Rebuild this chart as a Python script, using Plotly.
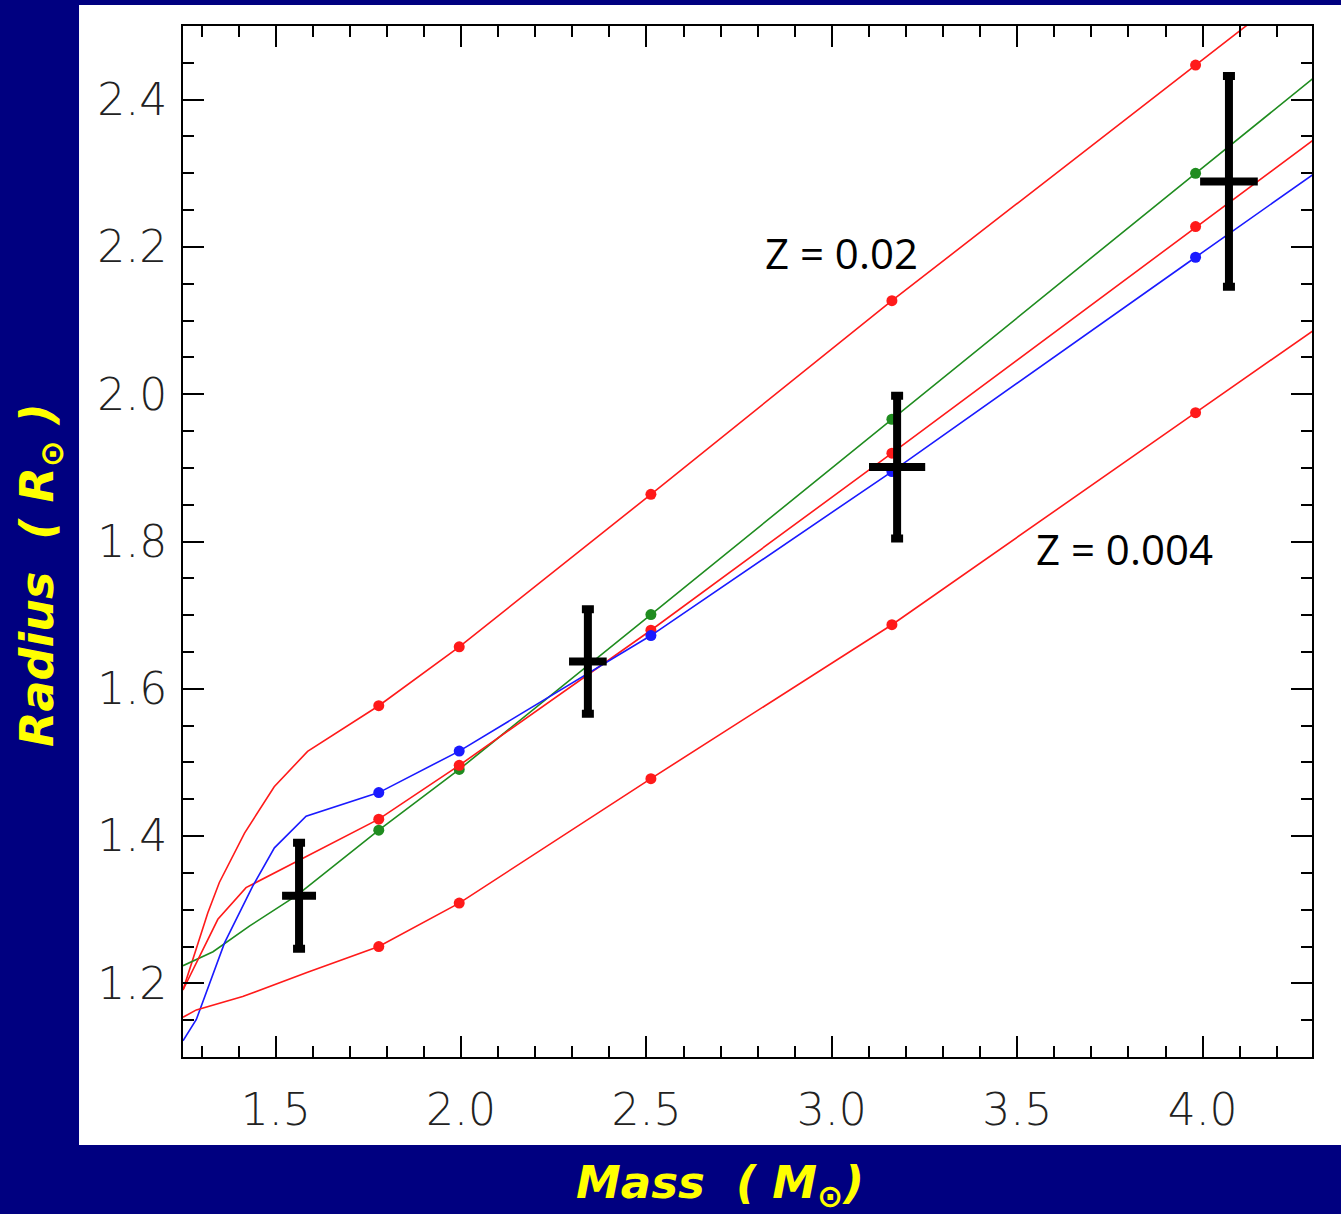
import plotly.graph_objects as go

# ---------------- data ----------------
MARKED_MASSES = [1.778, 1.995, 2.512, 3.162, 3.981]

# Upper red track (Z = 0.02)
mass_red_top = [1.25, 1.317, 1.348, 1.416, 1.496, 1.586, 1.778, 1.995, 2.512, 3.162, 3.981, 5.012]
radius_red_top = [1.191, 1.296, 1.337, 1.404, 1.467, 1.515, 1.577, 1.657, 1.864, 2.127, 2.447, 2.849]

# Middle red track
mass_red_mid = [1.25, 1.344, 1.420, 1.778, 1.995, 2.512, 3.162, 3.981, 5.012]
radius_red_mid = [1.191, 1.287, 1.330, 1.423, 1.496, 1.6795, 1.920, 2.2277, 2.612]

# Lower red track (Z = 0.004)
mass_red_low = [1.25, 1.286, 1.411, 1.586, 1.778, 1.995, 2.512, 3.162, 3.981, 5.012]
radius_red_low = [1.154, 1.164, 1.182, 1.215, 1.250, 1.309, 1.478, 1.687, 1.975, 2.337]

# Green track
mass_green = [1.25, 1.331, 1.430, 1.556, 1.778, 1.995, 2.512, 3.162, 3.981, 5.012]
radius_green = [1.224, 1.243, 1.278, 1.319, 1.408, 1.4905, 1.7008, 1.966, 2.300, 2.719]

# Blue track
mass_blue = [1.25, 1.286, 1.362, 1.438, 1.4965, 1.582, 1.778, 1.995, 2.512, 3.162, 3.981, 5.012]
radius_blue = [1.122, 1.151, 1.255, 1.332, 1.384, 1.427, 1.459, 1.5154, 1.6723, 1.895, 2.186, 2.552]

# Observed stars with error bars
obs_mass = [1.563, 2.342, 3.176, 4.071]
obs_mass_err = [0.035, 0.040, 0.065, 0.067]
obs_radius = [1.319, 1.637, 1.901, 2.289]
obs_radius_err = [0.072, 0.071, 0.097, 0.143]

x_ticks = [1.5, 2.0, 2.5, 3.0, 3.5, 4.0]
y_ticks = [1.2, 1.4, 1.6, 1.8, 2.0, 2.2, 2.4]

labels = [("Z = 0.02", 3.025, 2.192), ("Z = 0.004", 3.790, 1.790)]

RED = "#ff1a1a"
GREEN = "#1f8c1f"
BLUE = "#1a1aff"

series = [
    (mass_red_top, radius_red_top, RED),
    (mass_green, radius_green, GREEN),
    (mass_red_mid, radius_red_mid, RED),
    (mass_blue, radius_blue, BLUE),
    (mass_red_low, radius_red_low, RED),
]

fig = go.Figure()
for m, r, c in series:
    fig.add_trace(go.Scatter(x=m, y=r, mode="lines",
                             line=dict(color=c, width=1.6),
                             showlegend=False, hoverinfo="skip"))
    mx = [a for a in m if any(abs(a - k) < 1e-3 for k in MARKED_MASSES)]
    my = [b for a, b in zip(m, r) if any(abs(a - k) < 1e-3 for k in MARKED_MASSES)]
    fig.add_trace(go.Scatter(x=mx, y=my, mode="markers",
                             marker=dict(color=c, size=11, symbol="circle"),
                             showlegend=False))

fig.add_trace(go.Scatter(
    x=obs_mass, y=obs_radius, mode="markers",
    marker=dict(size=1, color="black", opacity=0),
    error_y=dict(type="data", array=obs_radius_err, color="black", thickness=8, width=6),
    error_x=dict(type="data", array=obs_mass_err, color="black", thickness=8, width=4),
    showlegend=False))

annotations = []
for txt, xx, yy in labels:
    annotations.append(dict(x=xx, y=yy, xref="x", yref="y", text=txt, showarrow=False,
                            font=dict(family="Open Sans", size=42, color="black"),
                            xanchor="center", yanchor="middle"))

annotations.append(dict(x=0.4757, y=-0.124, xref="paper", yref="paper",
                        text="Mass  ( M<sub>⊙</sub>)", showarrow=False,
                        font=dict(family="DejaVu Sans", size=45, color="#ffff00",
                                  weight="bold", style="italic"),
                        xanchor="center", yanchor="middle"))
annotations.append(dict(x=-0.1267, y=0.4675, xref="paper", yref="paper",
                        text="Radius  ( R<sub>⊙</sub> )", showarrow=False, textangle=-90,
                        font=dict(family="DejaVu Sans", size=46, color="#ffff00",
                                  weight="bold", style="italic"),
                        xanchor="center", yanchor="middle"))

tick_font = dict(family="DejaVu Sans", size=44, color="#222222", weight=200)

fig.update_layout(
    width=1341, height=1214,
    margin=dict(l=183, r=29, t=26, b=157),
    paper_bgcolor="#000080",
    plot_bgcolor="white",
    annotations=annotations,
    shapes=[dict(type="rect", xref="paper", yref="paper",
                 x0=-0.0921, x1=1.03, y0=-0.0854, y1=1.0204,
                 fillcolor="white", line=dict(width=0), layer="below")],
    xaxis=dict(range=[1.25, 4.295], tickvals=x_ticks, tickformat=".1f",
               ticks="inside", ticklen=21, tickwidth=2, tickcolor="black",
               minor=dict(dtick=0.1, tick0=0, ticks="inside", ticklen=11,
                          tickwidth=2, tickcolor="black"),
               showline=True, linecolor="black", linewidth=2, mirror="allticks",
               showgrid=False, zeroline=False, tickfont=tick_font,
               ticklabelstandoff=13),
    yaxis=dict(range=[1.1, 2.5], tickvals=y_ticks, tickformat=".1f",
               ticks="inside", ticklen=21, tickwidth=2, tickcolor="black",
               minor=dict(dtick=0.05, tick0=0, ticks="inside", ticklen=11,
                          tickwidth=2, tickcolor="black"),
               showline=True, linecolor="black", linewidth=2, mirror="allticks",
               showgrid=False, zeroline=False, tickfont=tick_font,
               ticklabelstandoff=5),
)

fig.write_html("out.html",
               config={"displayModeBar": False},
               post_script="document.body.style.margin='0';document.body.style.overflow='hidden';")
